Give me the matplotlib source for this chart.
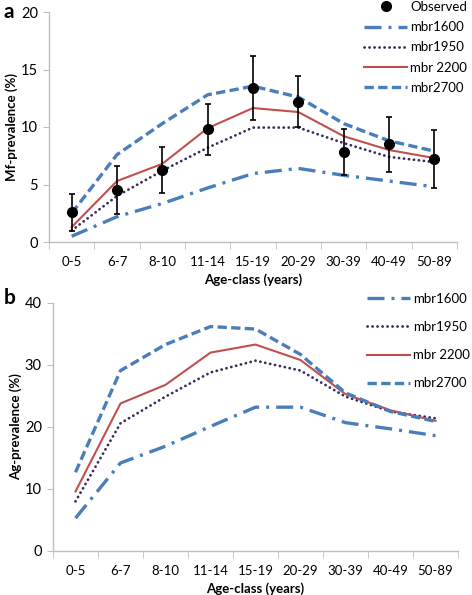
import matplotlib
matplotlib.use("Agg")
import matplotlib.pyplot as plt
from matplotlib.lines import Line2D
import numpy as np

plt.rcParams['font.family'] = ['Lato', 'DejaVu Sans']

categories = ["0-5", "6-7", "8-10", "11-14", "15-19", "20-29", "30-39", "40-49", "50-89"]

# Panel a: Mf-prevalence (%)
obs_a = [2.6, 4.5, 6.3, 9.8, 13.4, 12.2, 7.8, 8.5, 7.2]
obs_err_a = [1.6, 2.1, 2.0, 2.2, 2.8, 2.2, 2.0, 2.4, 2.5]
mbr1600_a = [0.5, 2.2, 3.35, 4.7, 5.95, 6.4, 5.8, 5.3, 4.8]
mbr1950_a = [1.0, 4.0, 6.2, 8.2, 9.95, 9.95, 8.6, 7.4, 6.95]
mbr2200_a = [1.3, 5.3, 6.8, 9.9, 11.65, 11.3, 9.2, 8.0, 7.3]
mbr2700_a = [2.5, 7.6, 10.3, 12.8, 13.55, 12.6, 10.3, 8.8, 7.9]

# Panel b: Ag-prevalence (%)
mbr1600_b = [5.3, 14.2, 16.9, 20.1, 23.2, 23.2, 20.7, 19.7, 18.6]
mbr1950_b = [8.0, 20.6, 24.9, 28.8, 30.7, 29.1, 24.9, 22.5, 21.4]
mbr2200_b = [9.6, 23.8, 26.8, 32.0, 33.3, 30.8, 25.3, 22.7, 21.0]
mbr2700_b = [12.7, 29.1, 33.3, 36.2, 35.8, 31.7, 25.5, 22.5, 20.9]

blue = '#4a7ebb'
purple = '#3b2a5c'
red = '#c0504d'
spine_c = '#bfbfbf'

fig = plt.figure(figsize=(4.72, 5.95), dpi=100)
W, H = 472, 595

def add_ax(l, t, r, b):
    return fig.add_axes([l / W, 1 - b / H, (r - l) / W, (b - t) / H])

ax_a = add_ax(49, 12, 457, 242)
ax_b = add_ax(53, 303, 458, 551)

x = np.arange(len(categories))

def style(ax, ymax, step, ylabel):
    ax.set_xlim(-0.5, len(categories) - 0.5)
    ax.set_ylim(0, ymax)
    ax.set_yticks(np.arange(0, ymax + 0.1, step))
    ax.set_xticks(x)
    ax.set_xticklabels(categories, fontsize=9.5)
    ax.set_xticks(np.arange(-0.5, len(categories), 1.0), minor=True)
    ax.tick_params(axis='x', which='major', length=0, pad=10)
    ax.tick_params(axis='x', which='minor', length=5, color=spine_c, direction='out')
    ax.tick_params(axis='y', length=4, color=spine_c, labelsize=10.5, pad=4)
    for s in ['top', 'right']:
        ax.spines[s].set_visible(False)
    for s in ['left', 'bottom']:
        ax.spines[s].set_color(spine_c)
        ax.spines[s].set_linewidth(1.0)
    ax.set_ylabel(ylabel, fontsize=9.5, fontweight='bold', labelpad=2)
    ax.set_xlabel('Age-class (years)', fontsize=9.5, fontweight='bold', labelpad=4)

def draw_models(ax, d1600, d1950, d2200, d2700):
    ax.plot(x, d1600, color=blue, lw=2.4, dashes=(5.1, 2.1, 0.9, 2.1), label='mbr1600')
    ax.plot(x, d1950, color=purple, lw=2.0, dashes=(0.05, 1.75), dash_capstyle='round', label='mbr1950')
    ax.plot(x, d2200, color=red, lw=1.5, label='mbr 2200')
    ax.plot(x, d2700, color=blue, lw=2.4, dashes=(2.8, 1.3), label='mbr2700')

# Panel a
draw_models(ax_a, mbr1600_a, mbr1950_a, mbr2200_a, mbr2700_a)
ax_a.errorbar(x, obs_a, yerr=obs_err_a, fmt='o', color='black', ms=7,
              ecolor='black', elinewidth=1.2, capsize=2.5, capthick=1.2,
              zorder=5)
style(ax_a, 20, 5, 'Mf-prevalence (%)')
h, l = ax_a.get_legend_handles_labels()
obs_handle = Line2D([], [], ls='none', marker='o', color='black', ms=7)
ax_a.legend([obs_handle] + h, ['Observed'] + l, loc='upper right',
            bbox_to_anchor=(467 / W, 1 - 1 / H), bbox_transform=fig.transFigure,
            borderaxespad=0, borderpad=0, frameon=False, fontsize=9.5,
            handlelength=3.3, labelspacing=0.62, handletextpad=0.2)

# Panel b
draw_models(ax_b, mbr1600_b, mbr1950_b, mbr2200_b, mbr2700_b)
style(ax_b, 40, 10, 'Ag-prevalence (%)')
ax_b.legend(loc='upper right',
            bbox_to_anchor=(470 / W, 1 - 293 / H), bbox_transform=fig.transFigure,
            borderaxespad=0, borderpad=0, frameon=False,
            fontsize=9.5, handlelength=3.3, labelspacing=1.22, handletextpad=0.2)

fig.text(4 / W, 1 - 12 / H, 'a', fontsize=15, fontweight='bold', va='center', ha='left')
fig.text(4 / W, 1 - 298 / H, 'b', fontsize=15, fontweight='bold', va='center', ha='left')

fig.savefig('out.png', dpi=100)
